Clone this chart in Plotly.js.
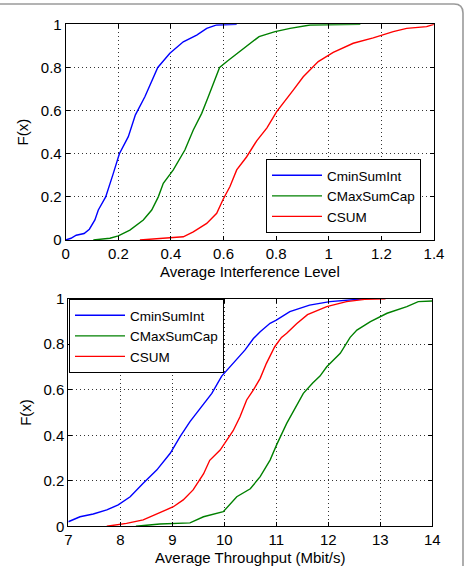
<!DOCTYPE html>
<html>
<head>
<meta charset="utf-8">
<script src="https://cdn.plot.ly/plotly-3.0.1.min.js"></script>
<style>html,body{margin:0;padding:0;background:#fff;}#chart{width:468px;height:566px;}</style>
</head>
<body>
<div id="chart"></div>
<script>
// ---- Data: top panel (Average Interference Level) ----
const seriesNames = ["CminSumInt", "CMaxSumCap", "CSUM"];
const intfMinX = [0.00,0.02,0.04,0.07,0.09,0.111,0.124,0.152,0.181,0.204,0.238,0.265,0.301,0.327,0.35,0.396,0.447,0.498,0.536,0.574,0.65];
const intfMinF = [0,0.008,0.022,0.03,0.05,0.093,0.139,0.20,0.309,0.40,0.479,0.58,0.664,0.734,0.80,0.866,0.919,0.950,0.981,0.997,1.0];
const intfMaxX = [0.105,0.168,0.20,0.244,0.295,0.327,0.352,0.371,0.409,0.453,0.485,0.517,0.542,0.567,0.585,0.615,0.65,0.688,0.735,0.796,0.853,0.929,1.12];
const intfMaxF = [0,0.008,0.019,0.046,0.093,0.139,0.20,0.263,0.325,0.417,0.51,0.587,0.664,0.742,0.80,0.83,0.862,0.896,0.943,0.966,0.981,0.997,1.0];
const intfSumX = [0.282,0.396,0.447,0.485,0.536,0.574,0.599,0.624,0.65,0.688,0.726,0.765,0.802,0.865,0.903,0.96,1.017,1.093,1.169,1.245,1.296,1.372,1.40];
const intfSumF = [0,0.008,0.015,0.038,0.077,0.124,0.19,0.247,0.325,0.386,0.46,0.52,0.595,0.695,0.757,0.827,0.87,0.912,0.937,0.966,0.981,0.989,1.0];

// ---- Data: bottom panel (Average Throughput, Mbit/s) ----
const thrMinX = [7.0,7.225,7.48,7.74,7.96,8.19,8.44,8.70,8.96,9.15,9.34,9.53,9.76,9.95,10.17,10.40,10.56,10.69,10.88,11.0,11.26,11.64,12.03,12.48,12.7];
const thrMinF = [0.02,0.042,0.054,0.072,0.094,0.13,0.189,0.247,0.321,0.394,0.46,0.515,0.584,0.66,0.716,0.775,0.825,0.855,0.892,0.906,0.943,0.972,0.987,0.997,1.0];
const thrMaxX = [8.3,8.76,9.34,9.6,9.98,10.24,10.50,10.69,10.88,11.01,11.2,11.33,11.52,11.70,11.84,11.97,12.23,12.42,12.55,12.81,13.13,13.51,13.73,14.0];
const thrMaxF = [0,0.01,0.015,0.042,0.064,0.13,0.165,0.218,0.291,0.36,0.452,0.505,0.584,0.63,0.66,0.701,0.76,0.83,0.862,0.899,0.936,0.965,0.987,0.99];
const thrSumX = [7.74,8.12,8.44,8.76,9.02,9.21,9.40,9.60,9.72,9.92,10.05,10.17,10.30,10.43,10.56,10.69,10.81,10.97,11.10,11.20,11.39,11.60,11.97,12.35,12.7,13.1];
const thrSumF = [0,0.013,0.028,0.06,0.086,0.116,0.16,0.23,0.29,0.335,0.38,0.42,0.48,0.555,0.599,0.65,0.716,0.789,0.83,0.848,0.89,0.93,0.965,0.987,0.997,1.0];

const xTitleTop = "Average Interference Level";
const xTitleBot = "Average Throughput (Mbit/s)";
const yTitle = "F(x)";

const colors = ["#0000ff", "#008000", "#ff0000"];
const lw = 1.4;

function tr(x, y, i, xa, ya, lg) {
  return {x: x, y: y, type: "scatter", mode: "lines", name: seriesNames[i],
          xaxis: xa, yaxis: ya, legend: lg,
          line: {color: colors[i], width: lw, shape: "linear"}};
}

const data = [
  tr(intfMinX, intfMinF, 0, "x", "y", "legend"),
  tr(intfMaxX, intfMaxF, 1, "x", "y", "legend"),
  tr(intfSumX, intfSumF, 2, "x", "y", "legend"),
  tr(thrMinX, thrMinF, 0, "x2", "y2", "legend2"),
  tr(thrMaxX, thrMaxF, 1, "x2", "y2", "legend2"),
  tr(thrSumX, thrSumF, 2, "x2", "y2", "legend2")
];

const W = 468, H = 566;
const font = {family: "Liberation Sans, Arial, sans-serif", size: 15, color: "#000"};
function axBase() {
  return {
    showline: true, linecolor: "#000", linewidth: 1, mirror: "ticks",
    ticks: "inside", ticklen: 4, tickcolor: "#000", tickwidth: 1,
    showgrid: true, gridcolor: "#000", gridwidth: 0.8, griddash: "1px,3px",
    zeroline: false, automargin: false, tickfont: font
  };
}

const layout = {
  width: W, height: H,
  margin: {l: 0, r: 0, t: 0, b: 0},
  paper_bgcolor: "#fff", plot_bgcolor: "#fff",
  font: font,
  showlegend: true,
  xaxis: Object.assign(axBase(), {
    domain: [65.7 / W, 434 / W], range: [0, 1.4], dtick: 0.2, anchor: "y",
    title: {text: xTitleTop, font: font, standoff: 5}
  }),
  yaxis: Object.assign(axBase(), {
    domain: [1 - 240 / H, 1 - 24.3 / H], range: [0, 1], dtick: 0.2, anchor: "x",
    title: {text: yTitle, font: font, standoff: 8}
  }),
  xaxis2: Object.assign(axBase(), {
    domain: [68.3 / W, 432.3 / W], range: [7, 14], dtick: 1, anchor: "y2",
    title: {text: xTitleBot, font: font, standoff: 5}
  }),
  yaxis2: Object.assign(axBase(), {
    domain: [1 - 526.3 / H, 1 - 298.7 / H], range: [0, 1], dtick: 0.2, anchor: "x2",
    title: {text: yTitle, font: font, standoff: 8}
  }),
  legend: {
    x: 421 / W, xanchor: "right", y: 1 - 233 / H, yanchor: "bottom",
    bordercolor: "#000", borderwidth: 1, bgcolor: "#fff",
    font: {family: font.family, size: 13.5, color: "#000"},
    itemwidth: 50, tracegroupgap: 0
  },
  legend2: {
    x: 69 / W, xanchor: "left", y: 1 - 299 / H, yanchor: "top",
    bordercolor: "#000", borderwidth: 1, bgcolor: "#fff",
    font: {family: font.family, size: 13.5, color: "#000"},
    itemwidth: 50, tracegroupgap: 0
  },
  shapes: [{
    type: "path", xref: "paper", yref: "paper", layer: "above",
    path: "M -0.05," + (1 - 4 / H) + " L " + ((463 - 9) / W) + "," + (1 - 4 / H) +
          " Q " + (463 / W) + "," + (1 - 4 / H) + " " + (463 / W) + "," + (1 - 13 / H) +
          " L " + (463 / W) + ",-0.05",
    line: {color: "#9a9a9a", width: 1.6}
  }]
};

Plotly.newPlot("chart", data, layout, {staticPlot: true, displayModeBar: false});
</script>
</body>
</html>
